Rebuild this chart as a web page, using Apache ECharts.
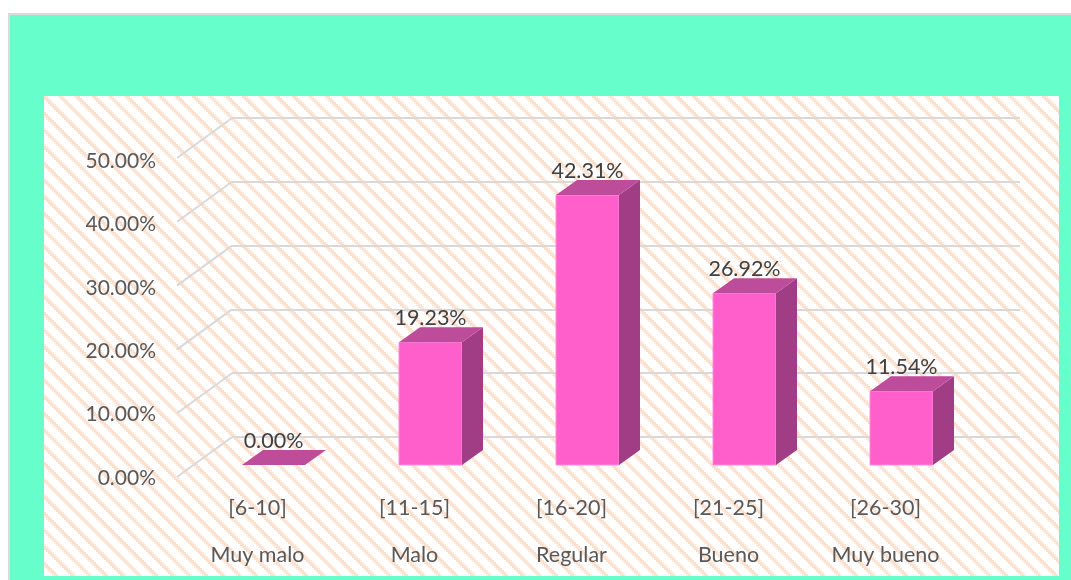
<!DOCTYPE html>
<html>
<head>
<meta charset="utf-8">
<title>Chart</title>
<style>
  html, body { margin: 0; padding: 0; background: #fff; }
  #chart { width: 1071px; height: 580px; }
</style>
<script src="https://cdn.jsdelivr.net/npm/echarts@6/dist/echarts.min.js"></script>
</head>
<body>
<div id="chart"></div>
<script>
const ranges = ["[6-10]", "[11-15]", "[16-20]", "[21-25]", "[26-30]"];
const names = ["Muy malo", "Malo", "Regular", "Bueno", "Muy bueno"];
const values = [0, 19.23, 42.31, 26.92, 11.54];
const yTicks = [0, 10, 20, 30, 40, 50];

const FONT = "Lato";
const DEPTH_X = 21, DEPTH_Y = -15;
const WALL_X = 55, WALL_Y = -40;
const BAR_W = 63;

// hatch tile, blocky like the original pattern fill
function hatchTile() {
  const size = 50;
  const period = size / 3;
  const c = document.createElement("canvas");
  c.width = size;
  c.height = size;
  const ctx = c.getContext("2d");
  ctx.fillStyle = "#fff";
  ctx.fillRect(0, 0, size, size);
  for (let y = 0; y < size; y += 2) {
    for (let x = 0; x < size; x += 2) {
      const d = (x - y - 11 + size * 2) % period;
      if (d < 6) {
        ctx.fillStyle = d < 1.5 || d >= 4.5 ? "#fdece1" : "#fbe0ce";
        ctx.fillRect(x, y, 2, 2);
      }
    }
  }
  return c;
}

const chart = echarts.init(document.getElementById("chart"));

function renderBar(params, api) {
  const v = api.value(1);
  const base = api.coord([api.value(0), 0]);
  const top = api.coord([api.value(0), v]);
  const x0 = Math.round(base[0] - BAR_W / 2);
  const x1 = x0 + BAR_W;
  const yb = base[1];
  const yt = top[1];
  const children = [];
  if (v > 0) {
    children.push({
      type: "rect",
      shape: { x: x0, y: yt, width: BAR_W, height: yb - yt },
      style: { fill: "#ff5fcb", stroke: "#ff8ddb", lineWidth: 1 },
    });
    children.push({
      type: "polygon",
      shape: { points: [[x1, yt], [x1 + DEPTH_X, yt + DEPTH_Y], [x1 + DEPTH_X, yb + DEPTH_Y], [x1, yb]] },
      style: { fill: "#a03d85" },
    });
  }
  children.push({
    type: "polygon",
    shape: { points: [[x0, yt], [x0 + DEPTH_X, yt + DEPTH_Y], [x1 + DEPTH_X, yt + DEPTH_Y], [x1, yt]] },
    style: { fill: "#bd4d9b" },
  });
  children.push({
    type: "text",
    style: {
      x: base[0],
      y: yt - 24,
      text: v.toFixed(2) + "%",
      align: "center",
      verticalAlign: "middle",
      fill: "#404040",
      font: "21.5px " + FONT,
    },
  });
  return { type: "group", children: children };
}

// side wall: from each back gridline down to the front edge
function renderWallLine(params, api) {
  const p = api.coord([0, api.value(0)]);
  const x = params.coordSys.x;
  return {
    type: "line",
    shape: { x1: x, y1: p[1], x2: x - WALL_X, y2: p[1] - WALL_Y },
    style: { stroke: "#d9d9d9", lineWidth: 2 },
  };
}

chart.setOption({
  backgroundColor: "#fff",
  animation: false,
  graphic: [
    {
      type: "rect",
      z: -2,
      shape: { x: 9, y: 14, width: 1070, height: 570 },
      style: { fill: "#66ffcc", stroke: "#d9d9d9", lineWidth: 2 },
    },
    {
      type: "rect",
      z: -1,
      shape: { x: 44, y: 96, width: 1015, height: 480 },
      style: { fill: { image: hatchTile(), repeat: "repeat" } },
    },
  ],
  grid: [
    // bars stand on the floor, between front edge and back wall
    { left: 195, top: 146, width: 785, height: 319 },
    // tick labels and category labels
    { left: 179, top: 161, width: 785, height: 317 },
    // back wall gridlines
    { left: 232, top: 118, width: 788, height: 319 },
  ],
  xAxis: [
    { gridIndex: 0, type: "category", data: names, show: false },
    {
      gridIndex: 1,
      type: "category",
      data: names.map((n, i) => ranges[i] + "\n" + n),
      axisLine: { show: false },
      axisTick: { show: false },
      axisLabel: {
        interval: 0,
        margin: 7,
        color: "#595959",
        fontFamily: FONT,
        fontSize: 21.5,
        lineHeight: 47,
      },
    },
    { gridIndex: 2, type: "category", data: names, show: false },
  ],
  yAxis: [
    { gridIndex: 0, type: "value", min: 0, max: 50, show: false },
    {
      gridIndex: 1,
      type: "value",
      min: 0,
      max: 50,
      interval: 10,
      axisLine: { show: false },
      axisTick: { show: false },
      splitLine: { show: false },
      axisLabel: {
        margin: 23,
        color: "#595959",
        fontFamily: FONT,
        fontSize: 21,
        formatter: (v) => v.toFixed(2) + "%",
      },
    },
    {
      gridIndex: 2,
      type: "value",
      min: 0,
      max: 50,
      interval: 10,
      axisLine: { show: false },
      axisTick: { show: false },
      axisLabel: { show: false },
      splitLine: { show: true, lineStyle: { color: "#d9d9d9", width: 2 } },
    },
  ],
  series: [
    {
      type: "custom",
      xAxisIndex: 2,
      yAxisIndex: 2,
      renderItem: renderWallLine,
      encode: { y: 0 },
      data: yTicks.map((t) => [t]),
      silent: true,
      z: 1,
    },
    {
      type: "custom",
      xAxisIndex: 0,
      yAxisIndex: 0,
      renderItem: renderBar,
      encode: { x: 0, y: 1 },
      data: values.map((v, i) => [i, v]),
      z: 3,
    },
  ],
});
</script>
</body>
</html>
